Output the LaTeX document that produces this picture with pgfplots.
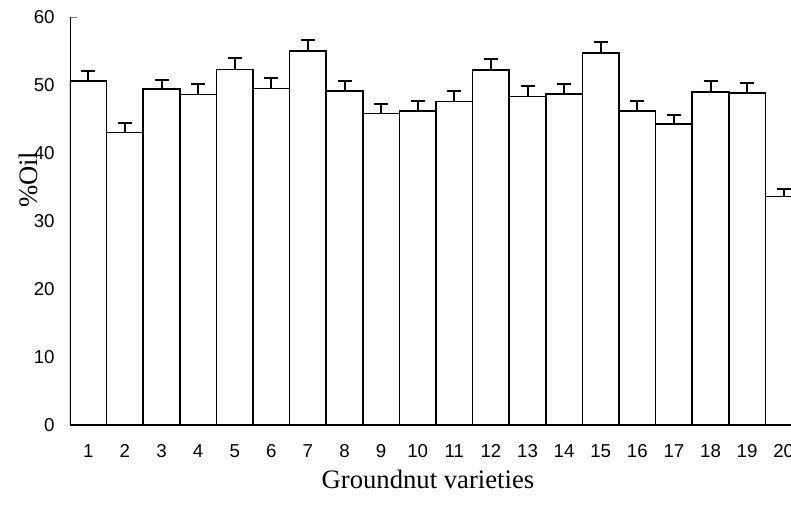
\documentclass[border=0pt]{standalone}
\usepackage{fontspec}
\setmainfont{Liberation Serif}
\newfontfamily\arial{Liberation Sans}
\usepackage{pgfplots}
\pgfplotsset{compat=1.18}

\begin{document}
\begin{tikzpicture}
\begin{axis}[
  at={(0,0)}, anchor=south west,
  scale only axis, width=549pt, height=306pt,
  xmin=0.5, xmax=20.5, ymin=0, ymax=60,
  axis x line*=bottom, axis y line*=left,
  axis line style={line width=0.6pt},
  ybar, bar width=1,
  xtick={1,...,20}, xtick style={draw=none},
  ytick={0,10,...,60}, tick align=inside, major tick length=5pt,
  ytick style={line width=0.6pt},
  /pgf/number format/assume math mode=true,
  tick label style={font=\arial\fontsize{14}{16}\selectfont},
  yticklabel style={xshift=-8pt},
  xticklabel style={yshift=-11pt},
  xlabel={Groundnut varieties}, ylabel={\%Oil},
  label style={font=\fontsize{20}{24}\selectfont},
  xlabel style={at={(rel axis cs:0.489,-0.134)}, anchor=center},
  ylabel style={at={(rel axis cs:-0.0574,0.601)}, anchor=center, rotate=0},
]
\addplot[draw=black, fill=white, line width=1.2pt,
  error bars/.cd, y dir=plus, y explicit,
  error bar style={line width=1.5pt},
  error mark options={rotate=90, line width=1.5pt, mark size=5.25pt, black}]
coordinates {
(1,50.6) +- (0,1.5)
(2,43.0) +- (0,1.4)
(3,49.4) +- (0,1.4)
(4,48.6) +- (0,1.5)
(5,52.3) +- (0,1.6)
(6,49.5) +- (0,1.5)
(7,55.0) +- (0,1.6)
(8,49.1) +- (0,1.5)
(9,45.8) +- (0,1.4)
(10,46.2) +- (0,1.4)
(11,47.6) +- (0,1.5)
(12,52.2) +- (0,1.6)
(13,48.3) +- (0,1.5)
(14,48.7) +- (0,1.4)
(15,54.7) +- (0,1.6)
(16,46.2) +- (0,1.4)
(17,44.3) +- (0,1.3)
(18,49.0) +- (0,1.6)
(19,48.8) +- (0,1.5)
(20,33.6) +- (0,1.1)
};
\end{axis}
\pgfresetboundingbox
\useasboundingbox (-52.5pt,-66pt) rectangle (540.75pt,318.75pt);
\end{tikzpicture}
\end{document}
